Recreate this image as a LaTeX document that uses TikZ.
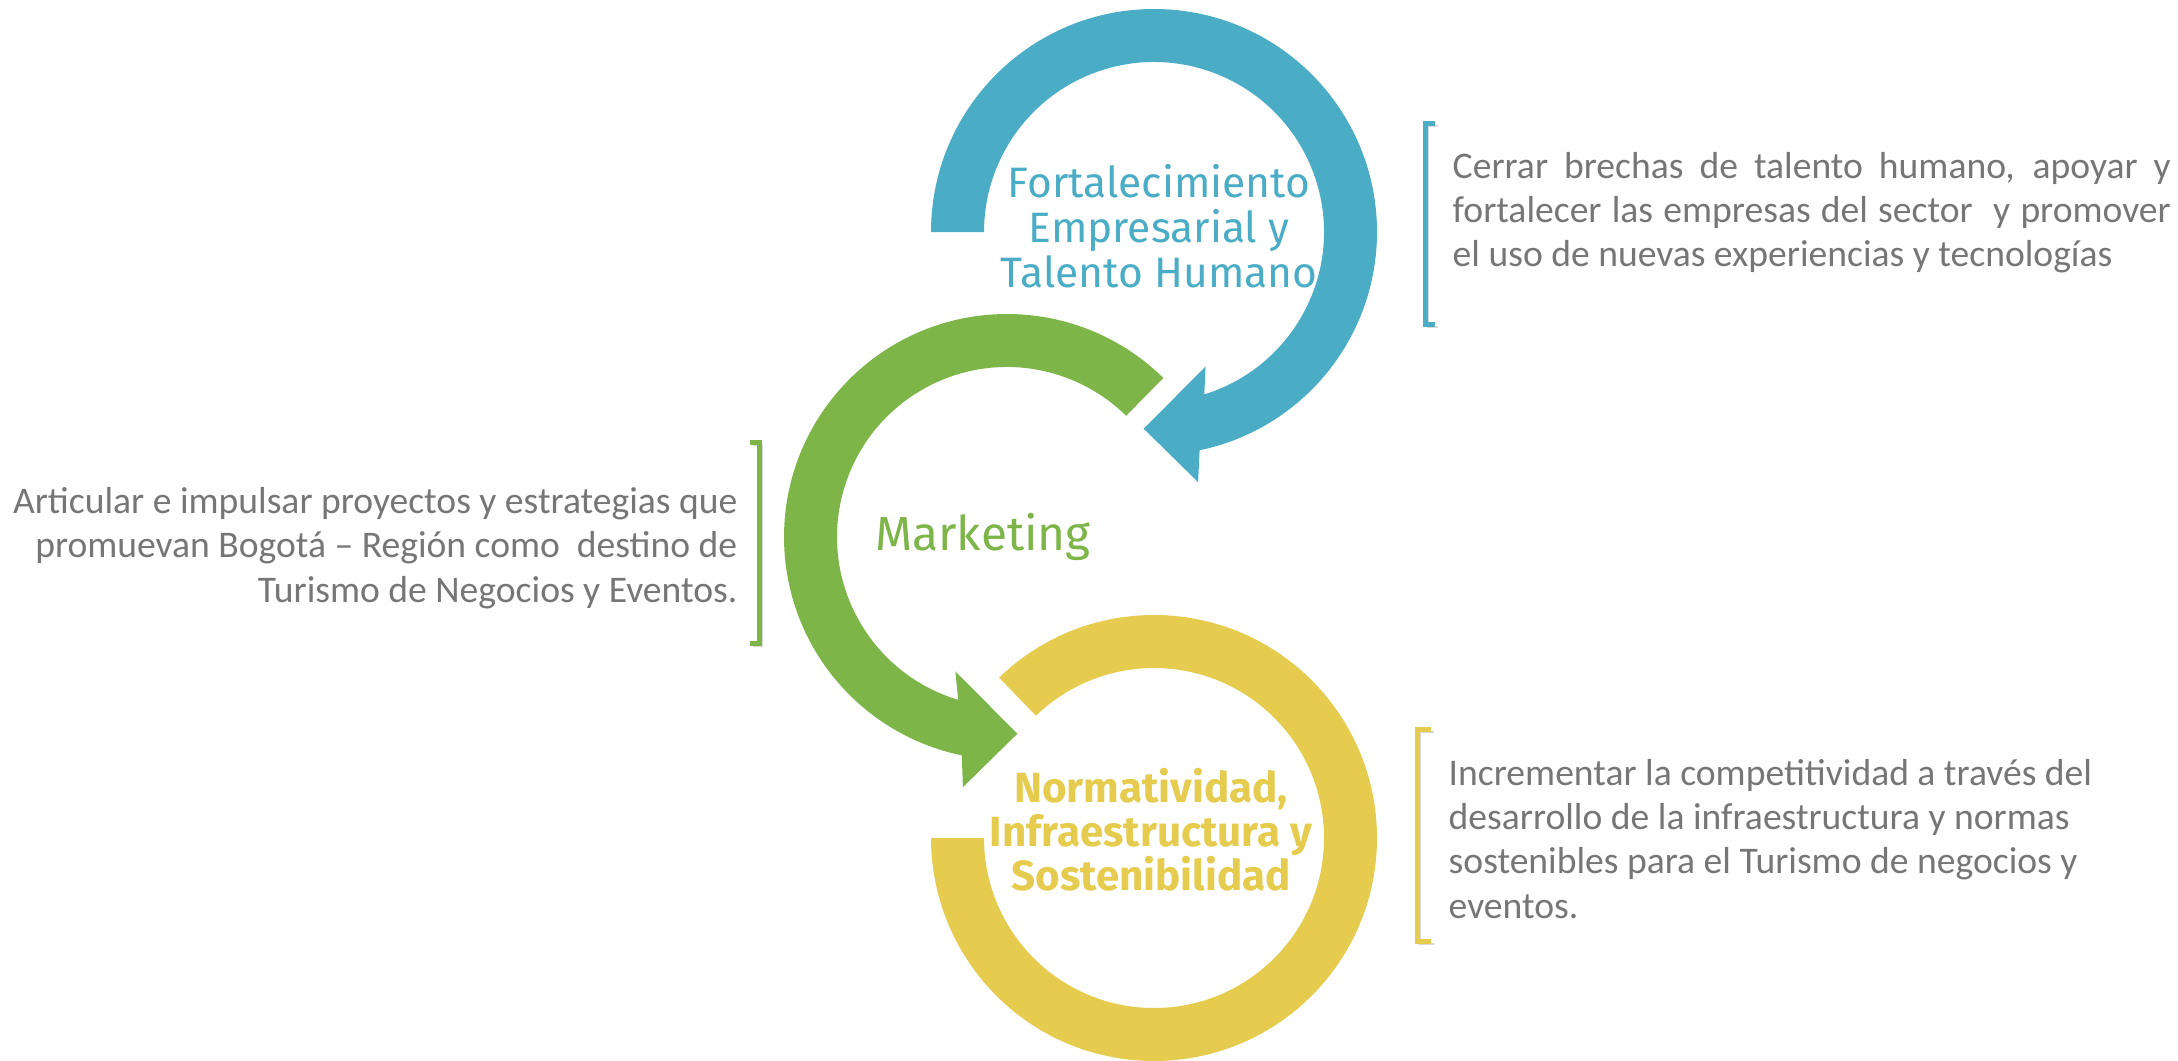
\documentclass[tikz,border=0pt]{standalone}
\usepackage{fontspec}
\setmainfont{Carlito}
\newfontfamily\ringfont{Fira Sans}
\definecolor{ringblue}{RGB}{75,172,198}
\definecolor{ringgreen}{RGB}{125,181,72}
\definecolor{ringyellow}{RGB}{229,203,78}
\definecolor{notegray}{RGB}{118,118,118}
\begin{document}
\begin{tikzpicture}[x=0.1mm, y=0.1mm,
    ringlabel/.style={align=center, inner sep=0pt, font=\ringfont\fontsize{12.1}{12.8}\selectfont},
    note/.style={inner sep=0pt, text=notegray, font=\fontsize{10.7}{12.6}\selectfont},
    bracket/.style={line width=0.5mm, preaction={draw=black!15, transform canvas={xshift=0.3mm, yshift=-0.3mm}}}]
   \useasboundingbox (0,0) rectangle (2178,1060);
   \coordinate (bc) at (1154,828);
   \coordinate (gc) at (1007,523);
   \coordinate (yc) at (1154,222);
   \fill[ringyellow] ([shift={(134:223)}]yc) arc[start angle=134, end angle=-180, radius=22.3mm]
      -- ([shift={(-180:170)}]yc) arc[start angle=-180, end angle=134, radius=17mm] -- cycle;
   \fill[ringgreen] ([shift={(45.5:223)}]gc) arc[start angle=45.5, end angle=258.3, radius=22.3mm]
      -- ([shift={(260:254)}]gc) -- ([shift={(-87:197)}]gc) -- ([shift={(249:144)}]gc)
      -- ([shift={(253.3:170)}]gc) arc[start angle=253.3, end angle=45.5, radius=17mm] -- cycle;
   \fill[ringblue] ([shift={(180:223)}]bc) arc[start angle=180, end angle=-78.2, radius=22.3mm]
      -- ([shift={(-80:254)}]bc) -- ([shift={(-93:197)}]bc) -- ([shift={(-69:144)}]bc)
      -- ([shift={(-72.8:170)}]bc) arc[start angle=-72.8, end angle=180, radius=17mm] -- cycle;
   \node[ringlabel, text=ringblue] (fort) at (1159,834) {Fortalecimiento\\Empresarial y\\Talento Humano};
   \node[ringlabel, text=ringgreen, font=\ringfont\fontsize{13.6}{14}\selectfont] (mark) at (983,523) {Marketing};
   \node[ringlabel, text=ringyellow, font=\ringfont\bfseries\fontsize{12}{12.5}\selectfont] (norm) at (1151,230) {Normatividad,\\Infraestructura y\\Sostenibilidad};
   \node[note, anchor=base west, text width=71.8mm, align=justify] (fortnote) at (1452,882)
      {Cerrar brechas de talento humano, apoyar y\linebreak fortalecer las empresas del sector\ \ y promover\linebreak el uso de nuevas experiencias y tecnologías};
   \node[note, anchor=base east, align=right] (marknote) at (738,458)
      {Articular e impulsar proyectos y estrategias que\\promuevan Bogotá – Región como\ \ destino de\\Turismo de Negocios y Eventos.};
   \node[note, anchor=base west, align=left] (normnote) at (1448,142)
      {Incrementar la competitividad a través del\\desarrollo de la infraestructura y normas\\sostenibles para el Turismo de negocios y\\eventos.};
   \draw[bracket, ringblue] (1435,937) -- (1425,937) -- (1425,736) -- (1435,736);
   \draw[bracket, ringgreen] (750,618) -- (759,618) -- (759,417) -- (750,417);
   \draw[bracket, ringyellow] (1431,331) -- (1417,331) -- (1417,119) -- (1431,119);
\end{tikzpicture}
\end{document}
